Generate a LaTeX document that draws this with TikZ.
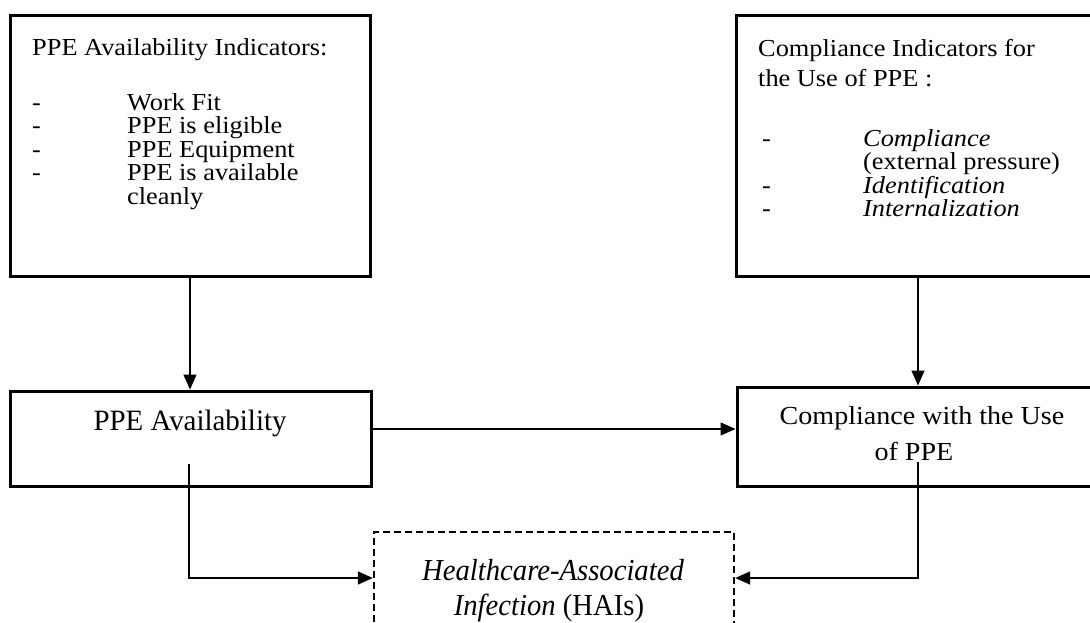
\documentclass[tikz,border=0pt]{standalone}
\usepackage{fontspec}
\setmainfont{Liberation Serif}
\newfontfamily\fwide{Liberation Serif}[FakeStretch=1.08]
\newfontfamily\fcomp{Liberation Serif}[FakeStretch=1.08]
\newfontfamily\favail{Liberation Serif}[FakeStretch=0.98]
\newfontfamily\fhai{Liberation Serif}[FakeStretch=0.94]
\usetikzlibrary{arrows.meta}
\tikzset{
  box/.style={draw, line width=3pt, rectangle, inner sep=0pt},
  dbox/.style={draw, line width=2.3pt, dash pattern=on 7pt off 4pt, rectangle, inner sep=0pt},
  txt/.style={inner sep=0pt, anchor=base west, font=\fwide\fontsize{24.4}{26}\selectfont},
  ctxt/.style={inner sep=0pt, anchor=base},
  arr/.style={line width=1.3pt, -{Triangle[length=15pt,width=13pt]}},
}
\begin{document}
\begin{tikzpicture}[x=1pt,y=-1pt]
\useasboundingbox (0,0) rectangle (1090,622);
\clip (0,0) rectangle (1090,622);
% boxes
\node[box, minimum width=360pt, minimum height=261pt] (ind1) at (190,145.5) {};
\node[box, minimum width=360pt, minimum height=261pt] (ind2) at (916,145.5) {};
\node[box, minimum width=361pt, minimum height=95pt] (avail) at (190.5,438.5) {};
\node[box, minimum width=360pt, minimum height=99pt] (compl) at (917,436.5) {};
\node[dbox, minimum width=360pt, minimum height=110pt] (hai) at (554,587) {};
% box 1 text
\node[txt] (t1a) at (32,55) {PPE Availability Indicators:};
\node[txt] (d1a) at (32,110) {-};
\node[txt] (t1b) at (127,110) {Work Fit};
\node[txt] (d1b) at (32,133) {-};
\node[txt] (t1c) at (127,133) {PPE is eligible};
\node[txt] (d1c) at (32,157) {-};
\node[txt] (t1d) at (127,157) {PPE Equipment};
\node[txt] (d1d) at (32,180) {-};
\node[txt] (t1e) at (127,180) {PPE is available};
\node[txt] (t1f) at (127,204) {cleanly};
% box 2 text
\node[txt] (t2a) at (758,56) {Compliance Indicators for};
\node[txt] (t2b) at (758,86) {the Use of PPE :};
\node[txt] (d2a) at (762,146) {-};
\node[txt] (t2c) at (863,146) {\itshape Compliance};
\node[txt] (t2d) at (863,169) {(external pressure)};
\node[txt] (d2b) at (762,193) {-};
\node[txt] (t2e) at (863,193) {\itshape Identification};
\node[txt] (d2c) at (762,216) {-};
\node[txt] (t2f) at (863,216) {\itshape Internalization};
% middle texts
\node[ctxt, font=\favail\fontsize{29.5}{32}\selectfont] (ta) at (190,430) {PPE Availability};
\node[ctxt, font=\fcomp\fontsize{26}{30}\selectfont] (tc1) at (922,424) {Compliance with the Use};
\node[ctxt, font=\fcomp\fontsize{26}{30}\selectfont] (tc2) at (914,460) {of PPE};
\node[ctxt, font=\fhai\fontsize{30.5}{34}\selectfont] (th1) at (553,580) {\itshape Healthcare-Associated};
\node[ctxt, font=\fhai\fontsize{30.5}{34}\selectfont] (th2) at (549,615) {\textit{Infection} (HAIs)};
% connectors
\coordinate (hy) at (0,429);
\coordinate (ly) at (0,578);
\coordinate (s1) at (189,464);
\coordinate (s2) at (918,462);
\coordinate (c2) at (918,276);
\draw[arr] (ind1.south) -- (ind1.south |- avail.north);
\draw[arr] (c2) -- (c2 |- compl.north);
\draw[arr] (avail.east |- hy) -- (compl.west |- hy);
\draw[arr] (s1) |- (hai.west |- ly);
\draw[arr] (s2) |- (hai.east |- ly);
\end{tikzpicture}
\end{document}
